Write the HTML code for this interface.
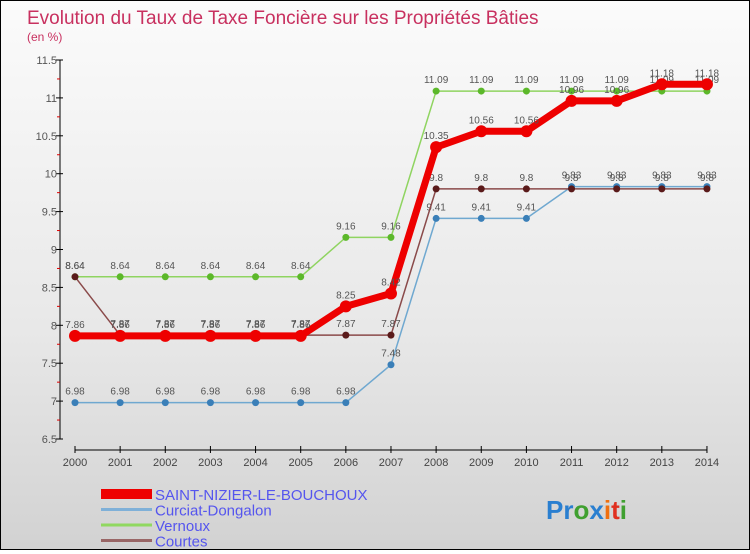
<!DOCTYPE html>
<html><head><meta charset="utf-8"><style>
body{margin:0;width:750px;height:550px;overflow:hidden}
#c{position:relative;width:748px;height:548px;border:1px solid #000;background:linear-gradient(#fbfbfb,#e8e8e8 60%,#d2d2d2)}
text{font-family:"Liberation Sans",sans-serif}
</style></head><body>
<div id="c">
<svg id="s" width="748" height="548">
<text x="26" y="23" font-size="19" fill="#c8305f">Evolution du Taux de Taxe Foncière sur les Propriétés Bâties</text>
<text x="26" y="40" font-size="12" fill="#c8305f">(en %)</text>
<g id="g"></g>
<text x="545" y="518" font-size="26" font-weight="bold"><tspan fill="#2a7fd0">Pr</tspan><tspan fill="#40a030">o</tspan><tspan fill="#2a7fd0">x</tspan><tspan fill="#f07010">i</tspan><tspan fill="#e03020">t</tspan><tspan fill="#40a030">i</tspan></text>
</svg></div>
<script>
const years=[2000,2001,2002,2003,2004,2005,2006,2007,2008,2009,2010,2011,2012,2013,2014];
const yTicks=[6.5,7,7.5,8,8.5,9,9.5,10,10.5,11,11.5];
const saint=[7.86,7.86,7.86,7.86,7.86,7.86,8.25,8.42,10.35,10.56,10.56,10.96,10.96,11.18,11.18];
const curciat=[6.98,6.98,6.98,6.98,6.98,6.98,6.98,7.48,9.41,9.41,9.41,9.83,9.83,9.83,9.83];
const vernoux=[8.64,8.64,8.64,8.64,8.64,8.64,9.16,9.16,11.09,11.09,11.09,11.09,11.09,11.09,11.09];
const courtes=[8.64,7.87,7.87,7.87,7.87,7.87,7.87,7.87,9.8,9.8,9.8,9.8,9.8,9.8,9.8];
const names=["SAINT-NIZIER-LE-BOUCHOUX","Curciat-Dongalon","Vernoux","Courtes"];
const NS="http://www.w3.org/2000/svg",g=document.getElementById('g');
const X=i=>74+i*45.14, Y=v=>438-(v-6.5)*75.8;
function mk(t,a,p){const e=document.createElementNS(NS,t);for(const k in a)e.setAttribute(k,a[k]);(p||g).appendChild(e);return e;}
let ax=mk('line',{x1:59,y1:Y(11.5),x2:59,y2:Y(6.5),stroke:'#000'});


yTicks.forEach((v,i)=>{mk('line',{x1:55,x2:62,y1:Y(v),y2:Y(v),stroke:'#000'});
 if(i<yTicks.length-1)mk('line',{x1:56,x2:59,y1:Y(v+0.25),y2:Y(v+0.25),stroke:'#d00'});
 const t=mk('text',{x:56,y:Y(v)+4,'font-size':11,fill:'#555','text-anchor':'end'});t.textContent=v;
 
 });
let xa=mk('line',{x1:74,x2:X(14),y1:449,y2:449,stroke:'#000'});


years.forEach((y,i)=>{mk('line',{x1:X(i),x2:X(i),y1:445,y2:452,stroke:'#000'});
 const t=mk('text',{x:X(i),y:465,'font-size':11,fill:'#444','text-anchor':'middle'});t.textContent=y;
 
 });
const series=[[curciat,'#6fa8d0',1.5,3.5,'#3a7fb8'],[vernoux,'#8fd460',1.5,3.5,'#5cb82a'],[courtes,'#8a4a4a',1.5,3.5,'#5a1a1a'],[saint,'#ee0000',7,6,'#ee0000']];
const nameIdx=[1,2,3,0];
series.forEach(([d,c,w,r,pc],si)=>{
 const p=mk('polyline',{points:d.map((v,i)=>X(i)+','+Y(v)).join(' '),fill:'none',stroke:c,'stroke-width':w});
 
 
 d.forEach((v,i)=>{const pt=mk('circle',{cx:X(i),cy:Y(v),r:r,fill:pc});
  
  
  const t=mk('text',{x:X(i),y:Y(v)-8,'font-size':10,fill:'#555','text-anchor':'middle'});t.textContent=v;
  
  });
});
const lc=['#ee0000','#7fb0d8','#90d860','#996666'],lw=[10,3,3,3];
names.forEach((n,i)=>{const y=493+i*15.5;
 const l=mk('line',{x1:100,x2:151,y1:y,y2:y,stroke:lc[i],'stroke-width':lw[i]});
 
 
 const t=mk('text',{x:154,y:y+6,'font-size':15,fill:'#5555ee'});t.textContent=n;
 
 });
</script></body></html>
